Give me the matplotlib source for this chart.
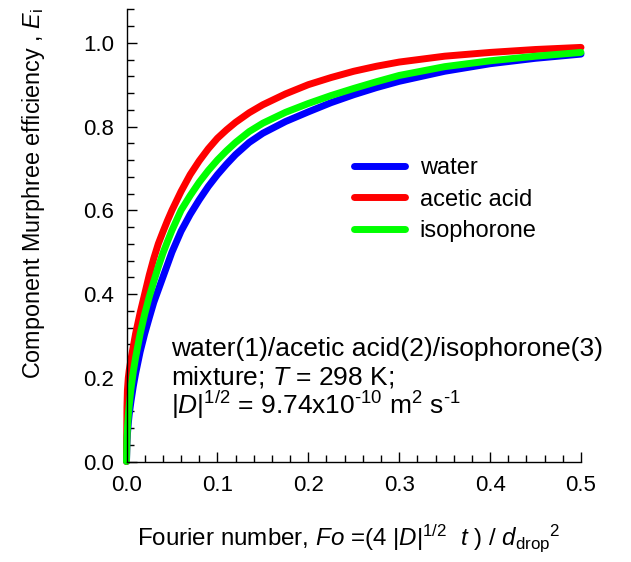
import matplotlib
matplotlib.use('Agg')
import matplotlib.pyplot as plt
from matplotlib.ticker import MultipleLocator, FormatStrFormatter

plt.rcParams['font.family'] = ['Liberation Sans', 'DejaVu Sans']
plt.rcParams['mathtext.fontset'] = 'custom'
plt.rcParams['mathtext.rm'] = 'Liberation Sans'
plt.rcParams['mathtext.it'] = 'Liberation Sans:italic'

# Fourier number grid and efficiencies
fo = [0.0, 0.0005, 0.001, 0.002, 0.003, 0.005, 0.0075, 0.01, 0.015, 0.02,
      0.025, 0.03, 0.035, 0.04, 0.045, 0.05, 0.06, 0.07, 0.08, 0.09, 0.1,
      0.11, 0.12, 0.135, 0.15, 0.175, 0.2, 0.225, 0.25, 0.275, 0.3, 0.35,
      0.4, 0.45, 0.5]
e_water = [0.0, 0.045, 0.065, 0.092, 0.113, 0.145, 0.18, 0.21, 0.262, 0.305,
           0.343, 0.38, 0.41, 0.44, 0.47, 0.50, 0.55, 0.59, 0.625, 0.657, 0.685,
           0.71, 0.733, 0.762, 0.784, 0.812, 0.835, 0.857, 0.876, 0.893, 0.908, 0.932,
           0.95, 0.963, 0.973]
e_acetic = [0.0, 0.13, 0.17, 0.20, 0.218, 0.245, 0.275, 0.305, 0.355, 0.40,
            0.445, 0.485, 0.52, 0.548, 0.575, 0.60, 0.645, 0.685, 0.718, 0.747, 0.772,
            0.792, 0.81, 0.833, 0.852, 0.878, 0.90, 0.917, 0.932, 0.944, 0.954, 0.968,
            0.977, 0.984, 0.989]
e_isoph = [0.0, 0.055, 0.078, 0.11, 0.135, 0.175, 0.215, 0.248, 0.305, 0.352,
           0.393, 0.43, 0.465, 0.497, 0.525, 0.552, 0.60, 0.635, 0.667, 0.695, 0.72,
           0.742, 0.762, 0.788, 0.808, 0.834, 0.855, 0.874, 0.891, 0.907, 0.922, 0.943,
           0.957, 0.968, 0.977]

labels = ['water', 'acetic acid', 'isophorone']
colors = ['#0000ff', '#ff0000', '#00ff00']

W, H = 631, 562
fig = plt.figure(figsize=(W / 100, H / 100), dpi=100)
ax = fig.add_axes([126.5 / W, 1 - 461.5 / H, (581 - 126.5) / W, (461.5 - 9.3) / H])

for e, lab, c in zip([e_water, e_acetic, e_isoph], labels, colors):
    ax.plot(fo, e, color=c, lw=5, label=lab, solid_capstyle='round',
            solid_joinstyle='round', clip_on=False)

ax.set_xlim(0, 0.5)
ax.set_ylim(0, 1.08)
ax.xaxis.set_major_locator(MultipleLocator(0.1))
ax.xaxis.set_minor_locator(MultipleLocator(0.02))
ax.yaxis.set_major_locator(MultipleLocator(0.2))
ax.yaxis.set_minor_locator(MultipleLocator(0.04))
ax.xaxis.set_major_formatter(FormatStrFormatter('%.1f'))
ax.yaxis.set_major_formatter(FormatStrFormatter('%.1f'))

for s in ['top', 'right']:
    ax.spines[s].set_visible(False)
for s in ['left', 'bottom']:
    ax.spines[s].set_linewidth(1.0)

ax.tick_params(which='both', direction='in', width=1, labelsize=16)
ax.tick_params(which='major', length=7)
ax.tick_params(which='minor', length=5)
ax.tick_params(axis='x', pad=10)
ax.tick_params(axis='y', pad=9)

ax.set_ylabel(r'Component Murphree efficiency , $E_{\rm i}$', fontsize=16.8)
ax.yaxis.set_label_coords(-0.176, 0.592)
ax.set_xlabel(r'Fourier number, $Fo$ =(4 $|D|^{1/2}$  $t$ ) / $d_{\rm drop}{}^{2}$',
              fontsize=17.4)
ax.xaxis.set_label_coords(0.489, -0.135)

ax.legend(loc='upper left', bbox_to_anchor=(0.4995, 0.673), frameon=False,
          fontsize=17, borderpad=0, borderaxespad=0, handlelength=2.2,
          handletextpad=0.6, labelspacing=0.4)

fs = 19
fig.text(171 / W, 1 - 356 / H, 'water(1)/acetic acid(2)/isophorone(3)', fontsize=fs, va='baseline')
fig.text(171 / W, 1 - 385 / H, r'mixture; $T$ = 298 K;', fontsize=fs, va='baseline')
fig.text(171 / W, 1 - 414 / H, r'$|D|^{1/2}$ = 9.74x10$^{\text{-}10}$ m$^{2}$ s$^{\text{-}1}$',
         fontsize=fs, va='baseline')

fig.savefig('out.png', dpi=100)
